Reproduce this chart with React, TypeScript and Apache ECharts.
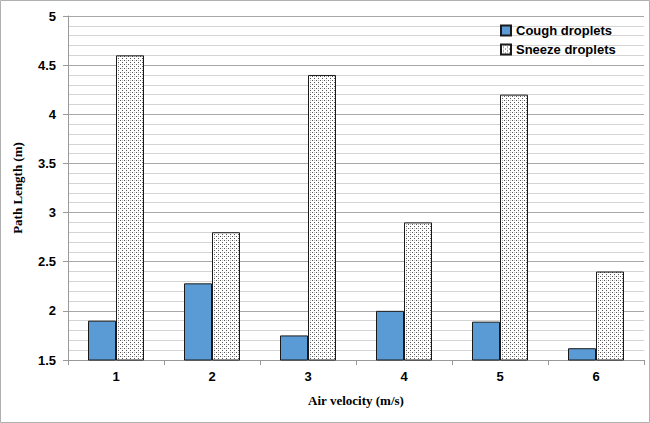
import React, { useEffect, useRef } from "react";
import * as echarts from "echarts";

const categories = ["1", "2", "3", "4", "5", "6"];
const coughValues = [1.9, 2.28, 1.75, 2.0, 1.89, 1.62];
const sneezeValues = [4.6, 2.8, 4.4, 2.9, 4.2, 2.4];
const seriesNames = ["Cough droplets", "Sneeze droplets"];

function makeDotPattern(): HTMLCanvasElement {
  const c = document.createElement("canvas");
  c.width = 4;
  c.height = 4;
  const ctx = c.getContext("2d")!;
  ctx.fillStyle = "#ffffff";
  ctx.fillRect(0, 0, 4, 4);
  ctx.fillStyle = "#555555";
  ctx.fillRect(0, 0, 1, 1);
  ctx.fillRect(2, 2, 1, 1);
  ctx.fillStyle = "#bbbbbb";
  ctx.fillRect(2, 0, 1, 1);
  return c;
}

export default function App() {
  const ref = useRef<HTMLDivElement>(null);
  useEffect(() => {
    document.body.style.margin = "0";
    const chart = echarts.init(ref.current!, null, { renderer: "svg" });
    const pattern = makeDotPattern();
    const labelFont = "'Liberation Sans', Arial, sans-serif";
    chart.setOption({
      animation: false,
      backgroundColor: "#ffffff",
      graphic: [
        {
          type: "rect",
          shape: { x: 0.5, y: 0.5, width: 649, height: 422 },
          style: { fill: "none", stroke: "#b0b0b0", lineWidth: 1 },
          silent: true,
        },
      ],
      legend: {
        orient: "vertical",
        left: 495,
        top: 19,
        itemWidth: 10,
        itemHeight: 10,
        itemGap: 6,
        icon: "rect",
        data: seriesNames,
        textStyle: {
          fontFamily: labelFont,
          fontWeight: "bold",
          fontSize: 13,
          color: "#000",
        },
      },
      grid: { left: 68, right: 6, top: 16, bottom: 63 },
      xAxis: {
        type: "category",
        data: categories,
        name: "Air velocity (m/s)",
        nameLocation: "middle",
        nameGap: 34,
        nameTextStyle: {
          fontFamily: "'Liberation Serif', 'Times New Roman', serif",
          fontWeight: "bold",
          fontSize: 13,
          color: "#000",
        },
        axisLine: { lineStyle: { color: "#999" } },
        axisTick: { show: true, length: 5, lineStyle: { color: "#999" } },
        axisLabel: {
          fontFamily: labelFont,
          fontWeight: "bold",
          fontSize: 13,
          color: "#000",
          margin: 10,
        },
      },
      yAxis: {
        type: "value",
        min: 1.5,
        max: 5,
        interval: 0.5,
        name: "Path Length (m)",
        nameLocation: "middle",
        nameGap: 44,
        nameTextStyle: {
          fontFamily: "'Liberation Serif', 'Times New Roman', serif",
          fontWeight: "bold",
          fontSize: 13,
          color: "#000",
        },
        axisLine: { show: true, lineStyle: { color: "#999" } },
        axisTick: { show: true, length: 5, lineStyle: { color: "#999" } },
        axisLabel: {
          fontFamily: labelFont,
          fontWeight: "bold",
          fontSize: 13,
          color: "#000",
          margin: 12,
        },
        splitLine: { show: true, lineStyle: { color: "#a8a8a8" } },
        minorTick: { show: false, splitNumber: 5 },
        minorSplitLine: { show: true, lineStyle: { color: "#d4d4d4" } },
      },
      series: [
        {
          name: seriesNames[0],
          type: "bar",
          data: coughValues,
          barWidth: 28,
          barGap: "0%",
          itemStyle: { color: "#5b9bd5", borderColor: "#1a1a1a", borderWidth: 1 },
        },
        {
          name: seriesNames[1],
          type: "bar",
          data: sneezeValues,
          barWidth: 28,
          itemStyle: {
            color: { image: pattern, repeat: "repeat" },
            borderColor: "#1a1a1a",
            borderWidth: 1,
          },
        },
      ],
    });
    return () => chart.dispose();
  }, []);
  return <div ref={ref} style={{ width: 650, height: 423 }} />;
}
